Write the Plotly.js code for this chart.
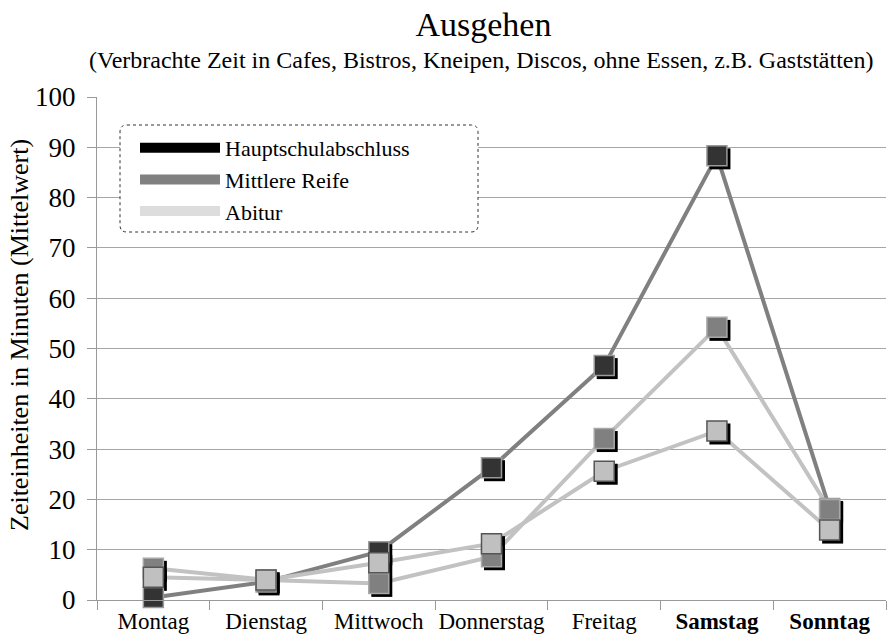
<!DOCTYPE html>
<html>
<head>
<meta charset="utf-8">
<script src="https://cdn.plot.ly/plotly-3.0.1.min.js"></script>
<style>html,body{margin:0;padding:0;background:#fff;}#chart{width:887px;height:640px;}</style>
</head>
<body>
<div id="chart"></div>
<script>
var categories = ['Montag', 'Dienstag', 'Mittwoch', 'Donnerstag', 'Freitag', 'Samstag', 'Sonntag'];
var tickLabels = ['Montag', 'Dienstag', 'Mittwoch', 'Donnerstag', 'Freitag', '<b>Samstag</b>', '<b>Sonntag</b>'];
var seriesNames = ['Hauptschulabschluss', 'Mittlere Reife', 'Abitur'];
var hauptschule = [0.5, 3.6, 9.6, 26.3, 46.6, 88.3, 18.2];
var mittlereReife = [6.3, 4.0, 3.3, 8.6, 32.1, 54.2, 18.0];
var abitur = [4.5, 4.0, 7.4, 11.2, 25.6, 33.6, 13.9];
var yTicks = [0, 10, 20, 30, 40, 50, 60, 70, 80, 90, 100];

var seriesValues = [hauptschule, mittlereReife, abitur];
var lineColors = ['#808080', '#c2c2c2', '#c2c2c2'];
var markerColors = ['#333333', '#808080', '#c0c0c0'];
var markerBorders = ['#9a9a9a', '#a8a8a8', '#555555'];
var legendColors = ['#000000', '#808080', '#dddddd'];

var font = 'Liberation Serif';
var traces = [];
// lines
seriesValues.forEach(function (vals, i) {
  traces.push({
    type: 'scatter', mode: 'lines', x: categories, y: vals,
    line: {color: lineColors[i], width: 4}, showlegend: false, hoverinfo: 'skip',
    xaxis: 'x', yaxis: 'y', cliponaxis: false
  });
});
// shadows
seriesValues.forEach(function (vals, i) {
  traces.push({
    type: 'scatter', mode: 'markers', x: categories, y: vals,
    marker: {symbol: 'square', size: 21, color: '#000000', line: {width: 0}},
    showlegend: false, hoverinfo: 'skip', xaxis: 'x2', yaxis: 'y2', cliponaxis: false
  });
});
// markers
seriesValues.forEach(function (vals, i) {
  traces.push({
    type: 'scatter', mode: 'markers', x: categories, y: vals, name: seriesNames[i],
    marker: {symbol: 'square', size: 20, color: markerColors[i], line: {width: 1.5, color: markerBorders[i]}},
    showlegend: false, xaxis: 'x3', yaxis: 'y3', cliponaxis: false
  });
});
// legend entries
seriesNames.forEach(function (n, i) {
  traces.push({
    type: 'scatter', mode: 'lines', x: [null], y: [null], name: n,
    line: {color: legendColors[i], width: 10}, showlegend: true, xaxis: 'x', yaxis: 'y'
  });
});

var plotW = 789, plotH = 503;
var dx = 3 / (plotW / 7), dy = 3 / (plotH / 100);
var rx = 7 / plotW, ry = 7 / plotH;
var L = (120 - 97) / plotW, R = (478 - 97) / plotW, T = (600 - 125) / plotH, B = (600 - 232) / plotH;
var boxPath = 'M' + (L + rx) + ',' + T + ' L' + (R - rx) + ',' + T + ' Q' + R + ',' + T + ' ' + R + ',' + (T - ry) +
  ' L' + R + ',' + (B + ry) + ' Q' + R + ',' + B + ' ' + (R - rx) + ',' + B +
  ' L' + (L + rx) + ',' + B + ' Q' + L + ',' + B + ' ' + L + ',' + (B + ry) +
  ' L' + L + ',' + (T - ry) + ' Q' + L + ',' + T + ' ' + (L + rx) + ',' + T + ' Z';

var layout = {
  width: 887, height: 640,
  margin: {l: 97, r: 1, t: 97, b: 40},
  paper_bgcolor: '#ffffff', plot_bgcolor: '#ffffff',
  font: {family: font, color: '#000000', size: 23},
  title: {text: 'Ausgehen', font: {family: font, size: 34, color: '#000'}, x: 0.545, xanchor: 'center', y: 0.963, yanchor: 'middle'},
  showlegend: true,
  legend: {x: (135 - 97) / plotW, y: (600 - 127) / plotH, xanchor: 'left', yanchor: 'top',
    bgcolor: 'rgba(0,0,0,0)', borderwidth: 0, itemwidth: 80, font: {family: font, size: 22, color: '#000'},
    tracegroupgap: 0, itemclick: false, itemdoubleclick: false},
  xaxis: {
    type: 'category', categoryorder: 'array', categoryarray: categories,
    tickvals: categories, ticktext: tickLabels, range: [-0.5, 6.5], tickangle: 0,
    showgrid: false, showline: true, linecolor: '#999999', linewidth: 1,
    ticks: 'outside', tickson: 'boundaries', ticklen: 9, tickcolor: '#999999',
    tickfont: {family: font, size: 23, color: '#000'}, zeroline: false, fixedrange: true
  },
  yaxis: {
    range: [0, 100], tickvals: yTicks, showgrid: true, gridcolor: '#a6a6a6', gridwidth: 1,
    showline: true, linecolor: '#999999', linewidth: 1, ticks: 'outside', ticklen: 9, tickcolor: '#999999',
    ticklabelstandoff: 6,
    tickfont: {family: font, size: 27, color: '#000'}, zeroline: false, fixedrange: true
  },
  xaxis2: {type: 'category', categoryorder: 'array', categoryarray: categories, overlaying: 'x',
    range: [-0.5 - dx, 6.5 - dx], visible: false, fixedrange: true},
  yaxis2: {overlaying: 'y', range: [0 + dy, 100 + dy], visible: false, fixedrange: true},
  xaxis3: {type: 'category', categoryorder: 'array', categoryarray: categories, overlaying: 'x',
    range: [-0.5, 6.5], visible: false, fixedrange: true},
  yaxis3: {overlaying: 'y', range: [0, 100], visible: false, fixedrange: true},
  shapes: [
    {type: 'path', xref: 'paper', yref: 'paper', path: boxPath, fillcolor: '#ffffff',
      line: {color: '#333333', width: 1, dash: 'dot'}, layer: 'above'}
  ],
  annotations: [
    {text: '(Verbrachte Zeit in Cafes, Bistros, Kneipen, Discos, ohne Essen, z.B. Gaststätten)',
      xref: 'paper', yref: 'paper', x: (481 - 97) / plotW, y: (600 - 60) / plotH, xanchor: 'center', yanchor: 'middle',
      showarrow: false, font: {family: font, size: 24, color: '#000'}},
    {text: 'Zeiteinheiten in Minuten (Mittelwert)', textangle: -90,
      xref: 'paper', yref: 'paper', x: (19 - 97) / plotW, y: (600 - 335) / plotH, xanchor: 'center', yanchor: 'middle',
      showarrow: false, font: {family: font, size: 26, color: '#000'}}
  ]
};

Plotly.newPlot('chart', traces, layout, {staticPlot: true, displayModeBar: false});
</script>
</body>
</html>
